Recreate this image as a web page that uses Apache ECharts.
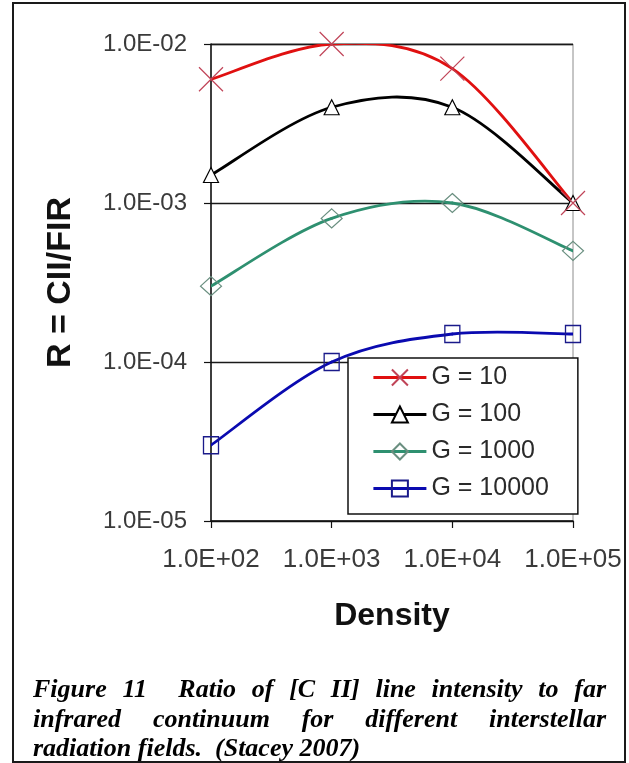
<!DOCTYPE html>
<html><head><meta charset="utf-8">
<script src="https://cdn.jsdelivr.net/npm/echarts@6/dist/echarts.min.js"></script>
<style>html,body{margin:0;padding:0;background:#fff}#c{width:629px;height:763px}</style>
</head><body><div id="c"></div>
<script>
// ---- data ----
const density = [100, 1000, 10000, 100000];
const seriesNames = ['G = 10', 'G = 100', 'G = 1000', 'G = 10000'];
const g10 = [6e-3, 1e-2, 7e-3, 1e-3];
const g100 = [1.5e-3, 4e-3, 4e-3, 1e-3];
const g1000 = [3e-4, 8e-4, 1e-3, 5e-4];
const g10000 = [3e-5, 1e-4, 1.5e-4, 1.5e-4];
const xTickLabels = ['1.0E+02', '1.0E+03', '1.0E+04', '1.0E+05'];
const yTickLabels = ['1.0E-05', '1.0E-04', '1.0E-03', '1.0E-02'];
const xAxisTitle = 'Density';
const yAxisTitle = 'R = CII/FIR';
const captionLine1 = 'Figure 11  Ratio of [C II] line intensity to far';
const captionLine2 = 'infrared continuum for different interstellar';
const captionLine3 = 'radiation fields.  (Stacey 2007)';

// ---- chart ----
const chart = echarts.init(document.getElementById('c'), null, {renderer: 'canvas'});
const pair = arr => density.map((d, i) => [d, arr[i]]);
const FONT = 'Liberation Sans';
const capFont = 'italic bold 26px "Liberation Serif"';

const styles = [
  {line: '#e01010', symbol: 'path://M0,0L10,10M10,0L0,10', size: 24, fill: '#fff', border: '#c04458', bw: 1.2},
  {line: '#000000', symbol: 'triangle', size: [15, 15], fill: '#fff', border: '#000', bw: 1.2},
  {line: '#2e9070', symbol: 'diamond', size: [21, 19], fill: 'rgba(255,255,255,0)', border: '#6a8f80', bw: 1.2},
  {line: '#0a0ab0', symbol: 'rect', size: [15, 17], fill: 'rgba(255,255,255,0)', border: '#1a1a8a', bw: 1.4}
];
const allSeries = [g10, g100, g1000, g10000];

// justified caption line; runs of spaces count as several gap units
function justifiedLine(text, x0, x1, y) {
  const cv = document.createElement('canvas').getContext('2d');
  cv.font = capFont;
  const parts = text.split(' ');
  const words = [], gapsAfter = [];
  parts.forEach(p => {
    if (p === '') { if (gapsAfter.length) gapsAfter[gapsAfter.length - 1] += 1; }
    else { words.push(p); gapsAfter.push(1); }
  });
  gapsAfter[gapsAfter.length - 1] = 0;
  const widths = words.map(w => cv.measureText(w).width);
  const total = widths.reduce((a, b) => a + b, 0);
  const units = gapsAfter.reduce((a, b) => a + b, 0);
  const unit = (x1 - x0 - total) / units;
  const els = [];
  let x = x0;
  words.forEach((w, i) => {
    els.push({type: 'text', x: x, y: y, style: {text: w, font: capFont, fill: '#000', verticalAlign: 'alphabetic'}});
    x += widths[i] + unit * gapsAfter[i];
  });
  return els;
}

const captionEls = [].concat(
  justifiedLine(captionLine1, 33, 606, 677),
  justifiedLine(captionLine2, 33, 606, 707),
  [{type: 'text', x: 33, y: 736, style: {text: captionLine3, font: capFont, fill: '#000', verticalAlign: 'alphabetic'}}]
);

// Excel-like (Catmull-Rom) smoothed curve through the data points, via the axes' scales
function curveSeries(arr, color, z) {
  return {
    type: 'custom', name: 'curve' + z, data: pair(arr), clip: true, z: z, silent: true,
    encode: {x: 0, y: 1},
    renderItem: (params, api) => {
      if (params.dataIndex !== 0) return null;
      const pts = arr.map((v, i) => api.coord([density[i], v]));
      const n = pts.length;
      const children = [];
      for (let i = 0; i < n - 1; i++) {
        const p0 = pts[Math.max(i - 1, 0)], p1 = pts[i], p2 = pts[i + 1], p3 = pts[Math.min(i + 2, n - 1)];
        children.push({
          type: 'bezierCurve',
          shape: {
            x1: p1[0], y1: p1[1], x2: p2[0], y2: p2[1],
            cpx1: p1[0] + (p2[0] - p0[0]) / 6, cpy1: p1[1] + (p2[1] - p0[1]) / 6,
            cpx2: p2[0] - (p3[0] - p1[0]) / 6, cpy2: p2[1] - (p3[1] - p1[1]) / 6
          },
          style: {fill: 'none', stroke: color, lineWidth: 2.8, lineCap: 'round'}
        });
      }
      return {type: 'group', children: children};
    }
  };
}

const series = [];
allSeries.forEach((arr, k) => {
  series.push(curveSeries(arr, styles[k].line, 2 + (3 - k) * 0.1));
});
allSeries.forEach((arr, k) => {
  const s = styles[k];
  series.push({
    name: seriesNames[k], type: 'line', data: pair(arr),
    symbol: s.symbol, symbolSize: s.size, showSymbol: true,
    lineStyle: {color: s.line, width: 0, opacity: 0},
    itemStyle: {color: s.fill, borderColor: s.border, borderWidth: s.bw},
    z: 5 + (3 - k) * 0.1
  });
});

const option = {
  animation: false,
  backgroundColor: '#fff',
  grid: {left: 211, top: 44, width: 362, height: 477, show: true, borderColor: '#8c8c8c', borderWidth: 1, containLabel: false},
  xAxis: {
    type: 'log', logBase: 10, min: 100, max: 100000,
    name: xAxisTitle, nameLocation: 'middle', nameGap: 79,
    nameTextStyle: {fontFamily: FONT, fontWeight: 'bold', fontSize: 32, color: '#111'},
    axisLine: {lineStyle: {color: '#111', width: 1.5}},
    axisTick: {show: true, length: 7, inside: false, lineStyle: {color: '#111', width: 1.2}},
    minorTick: {show: false},
    splitLine: {show: false},
    axisLabel: {margin: 26, fontFamily: FONT, fontSize: 26, color: '#3a3a3a',
      formatter: v => xTickLabels[Math.round(Math.log10(v)) - 2]}
  },
  yAxis: {
    type: 'log', logBase: 10, min: 1e-5, max: 1e-2,
    name: yAxisTitle, nameLocation: 'middle', nameGap: 133, nameRotate: 90,
    nameTextStyle: {fontFamily: FONT, fontWeight: 'bold', fontSize: 34, color: '#111'},
    axisLine: {lineStyle: {color: '#111', width: 1.5}},
    axisTick: {show: true, length: 7, inside: false, lineStyle: {color: '#111', width: 1.2}},
    minorTick: {show: false},
    splitLine: {show: true, lineStyle: {color: ['#1a1a1a', '#1a1a1a', '#1a1a1a', '#8c8c8c'], width: 1.3}},
    axisLabel: {margin: 24, fontFamily: FONT, fontSize: 24, color: '#3a3a3a',
      formatter: v => yTickLabels[Math.round(Math.log10(v)) + 5]}
  },
  legend: {
    orient: 'vertical', left: 348, top: 358,
    backgroundColor: '#fff', borderColor: '#111', borderWidth: 1.5,
    padding: [7, 29, 13, 24], itemGap: 12, itemWidth: 53, itemHeight: 20,
    textStyle: {fontFamily: FONT, fontSize: 25, color: '#2a2a2a'},
    data: seriesNames.map((n, k) => ({
      name: n,
      lineStyle: {color: styles[k].line, width: 2.8, opacity: 1, type: 'solid'}
    }))
  },
  series: series,
  graphic: [
    {type: 'rect', shape: {x: 13, y: 3, width: 612, height: 759}, style: {fill: 'none', stroke: '#1a1a1a', lineWidth: 2}, z: 100, silent: true},
    {type: 'group', children: captionEls}
  ]
};
chart.setOption(option);
</script></body></html>
